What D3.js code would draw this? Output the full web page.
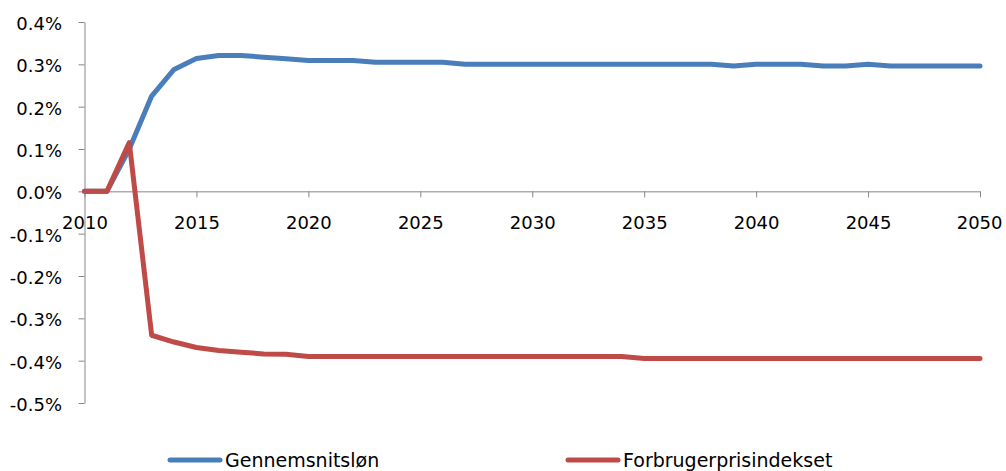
<!DOCTYPE html>
<html>
<head>
<meta charset="utf-8">
<script src="https://cdn.jsdelivr.net/npm/d3@7"></script>
<style>
  body { margin: 0; background: #fff; }
  text { font-family: "DejaVu Sans", sans-serif; fill: #000; }
</style>
</head>
<body>
<svg id="chart" width="1006" height="471"></svg>
<script>
// years on the x axis
var years = [2010, 2011, 2012, 2013, 2014, 2015, 2016, 2017, 2018, 2019,
             2020, 2021, 2022, 2023, 2024, 2025, 2026, 2027, 2028, 2029,
             2030, 2031, 2032, 2033, 2034, 2035, 2036, 2037, 2038, 2039,
             2040, 2041, 2042, 2043, 2044, 2045, 2046, 2047, 2048, 2049, 2050];

// values in percent
var gennemsnitslon = [0, 0, 0.100, 0.225, 0.288, 0.314, 0.321, 0.321, 0.317, 0.313,
                      0.309, 0.309, 0.309, 0.305, 0.305, 0.305, 0.305, 0.300, 0.300, 0.300,
                      0.300, 0.300, 0.300, 0.300, 0.300, 0.300, 0.300, 0.300, 0.300, 0.296,
                      0.300, 0.300, 0.300, 0.296, 0.296, 0.300, 0.296, 0.296, 0.296, 0.296, 0.296];

var forbrugerpris = [0, 0, 0.115, -0.340, -0.356, -0.369, -0.376, -0.380, -0.384, -0.385,
                     -0.390, -0.390, -0.390, -0.390, -0.390, -0.390, -0.390, -0.390, -0.390, -0.390,
                     -0.390, -0.390, -0.390, -0.390, -0.390, -0.395, -0.395, -0.395, -0.395, -0.395,
                     -0.395, -0.395, -0.395, -0.395, -0.395, -0.395, -0.395, -0.395, -0.395, -0.395, -0.395];

var yTicks = [0.4, 0.3, 0.2, 0.1, 0, -0.1, -0.2, -0.3, -0.4, -0.5];
var xTicks = [2010, 2015, 2020, 2025, 2030, 2035, 2040, 2045, 2050];

var seriesNames = ["Gennemsnitsløn", "Forbrugerprisindekset"];
var seriesColors = ["#4a7ebb", "#be4b48"];

var svg = d3.select("#chart");
var axisColor = "#868686";

var x = d3.scaleLinear().domain([2010, 2050]).range([84.5, 980]);
var y = d3.scaleLinear().domain([-0.5, 0.4]).range([403, 22]);

// y axis
var yAxis = svg.append("g")
    .attr("transform", "translate(84.5,0)")
    .call(d3.axisLeft(y)
        .tickValues(yTicks)
        .tickSize(6)
        .tickSizeOuter(0)
        .tickPadding(16.5)
        .tickFormat(function(d) { return d.toFixed(1) + "%"; }));

yAxis.selectAll("path, line").attr("stroke", axisColor);
yAxis.selectAll("text")
    .attr("font-family", "DejaVu Sans")
    .attr("font-size", 18)
    .attr("dy", "0.42em")
    .attr("fill", "#000");

// x axis, crossing at 0
var xAxis = svg.append("g")
    .attr("transform", "translate(0," + y(0) + ")")
    .call(d3.axisBottom(x)
        .tickValues(xTicks)
        .tickSize(6)
        .tickSizeOuter(0)
        .tickPadding(18.5)
        .tickFormat(d3.format("d")));

xAxis.selectAll("path, line").attr("stroke", axisColor);
xAxis.selectAll("text")
    .attr("font-family", "DejaVu Sans")
    .attr("font-size", 18)
    .attr("fill", "#000")
    .attr("text-anchor", function(d) { return d == 2050 ? "end" : "middle"; })
    .attr("dx", function(d) { return d == 2050 ? 22 : 0; });

// lines
var line = d3.line()
    .x(function(d, i) { return x(years[i]); })
    .y(function(d) { return y(d); });

[gennemsnitslon, forbrugerpris].forEach(function(s, i) {
    svg.append("path")
        .datum(s)
        .attr("d", line)
        .attr("fill", "none")
        .attr("stroke", seriesColors[i])
        .attr("stroke-width", 5)
        .attr("stroke-linejoin", "round")
        .attr("stroke-linecap", "round");
});

// legend
var legendX = [170, 568];
seriesNames.forEach(function(name, i) {
    var g = svg.append("g").attr("transform", "translate(" + legendX[i] + ",460)");
    g.append("line")
        .attr("x1", 0).attr("x2", 50)
        .attr("y1", 0).attr("y2", 0)
        .attr("stroke", seriesColors[i])
        .attr("stroke-width", 5)
        .attr("stroke-linecap", "round");
    g.append("text")
        .attr("x", 55)
        .attr("y", 7)
        .attr("font-size", 19)
        .text(name);
});
</script>
</body>
</html>
